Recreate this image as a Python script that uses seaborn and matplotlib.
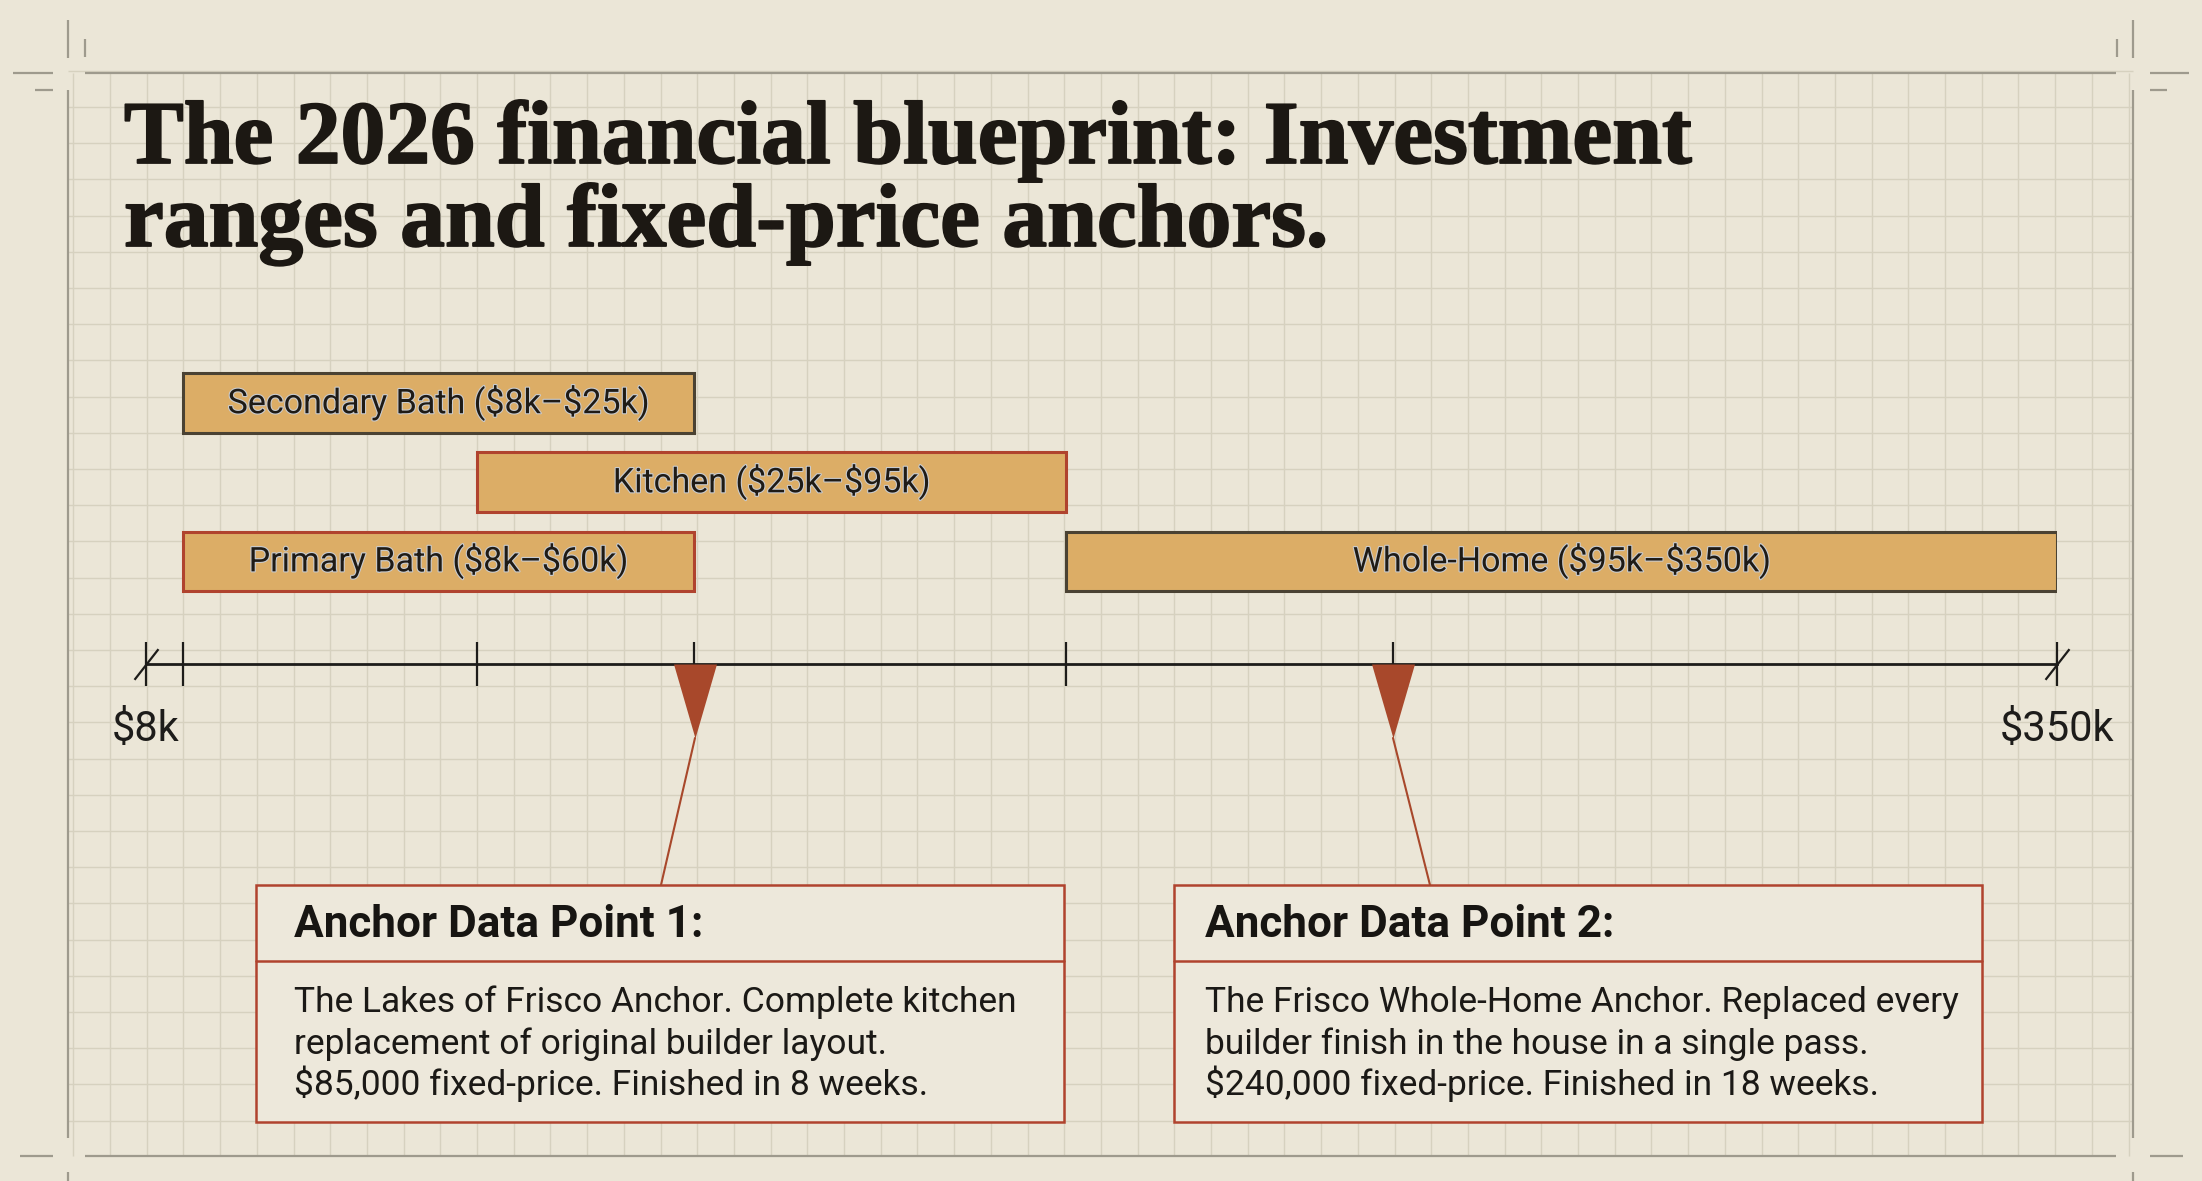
## Investment ranges on a schematic price line, with two fixed-price anchors
import numpy as np
import matplotlib
matplotlib.use("Agg")
import matplotlib.pyplot as plt
import matplotlib.patheffects as pe
from matplotlib.patches import Rectangle
import seaborn as sns

## data (all prices in $k)
categories = ["Secondary Bath", "Kitchen", "Primary Bath", "Whole-Home"]
bar_labels = ["Secondary Bath ($8k–$25k)", "Kitchen ($25k–$95k)",
              "Primary Bath ($8k–$60k)", "Whole-Home ($95k–$350k)"]
# extents as drawn against the line's ticks (the secondary bath bar is drawn out to the $60k tick)
bar_start = [8, 25, 8, 95]
bar_end = [60, 95, 60, 350]
bar_row = [0, 1, 2, 2]

anchor_values = [85, 240]
anchor_titles = ["Anchor Data Point 1:", "Anchor Data Point 2:"]
anchor_lines = [
    ["The Lakes of Frisco Anchor. Complete kitchen",
     "replacement of original builder layout.",
     "$85,000 fixed-price. Finished in 8 weeks."],
    ["The Frisco Whole-Home Anchor. Replaced every",
     "builder finish in the house in a single pass.",
     "$240,000 fixed-price. Finished in 18 weeks."],
]
axis_min, axis_max = 0, 350
tick_values = [0, 8, 25, 60, 95, 240, 350]
axis_end_labels = ["$8k", "$350k"]
title_lines = ["The 2026 financial blueprint: Investment",
               "ranges and fixed-price anchors."]

## the price line in the picture is schematic, not linear: knots
scale_values = [0, 8, 25, 60, 85, 95, 240, 350]
scale_pos = [0, 37, 331, 548, 549, 920, 1247, 1911]

def fwd(v):
    return np.interp(v, scale_values, scale_pos)

def inv(p):
    return np.interp(p, scale_pos, scale_values)

## colours
BG = "#ebe6d7"
GRID = "#d6d1bf"
FRAME = "#9e9a8d"
INK = "#1c1813"
BAR_FILL = "#dcad66"
DARK_EDGE = "#4a4233"
RED = "#b0432e"
RUST = "#a8482b"
edge_of = {"Secondary Bath": DARK_EDGE, "Kitchen": RED,
           "Primary Bath": RED, "Whole-Home": DARK_EDGE}

W, H = 2202, 1181
sns.set_theme(style="white")
plt.rcParams["font.family"] = ["Roboto", "DejaVu Sans"]
plt.rcParams["text.parse_math"] = False

fig = plt.figure(figsize=(W / 100, H / 100), dpi=100)
fig.patch.set_facecolor(BG)

## background sheet in pixel units: grid, frame, crop marks, title, note boxes
bg = fig.add_axes([0, 0, 1, 1])
bg.set_xlim(0, W)
bg.set_ylim(H, 0)
bg.axis("off")
bg.set_facecolor(BG)

gx = np.arange(73.3, 2133, 36.7)
gy = np.arange(107 - 36.2, 1156, 36.2)
bg.vlines(gx, 73, 1156, color=GRID, lw=1.0, zorder=1)
bg.hlines(gy, 68, 2133, color=GRID, lw=1.0, zorder=1)

frame_kw = dict(color=FRAME, lw=1.6, zorder=2, solid_capstyle="butt")
bg.plot([85, 2116], [73, 73], **frame_kw)
bg.plot([85, 2116], [1156, 1156], **frame_kw)
bg.plot([68, 68], [90, 1138], **frame_kw)
bg.plot([2133, 2133], [90, 1138], **frame_kw)
# crop marks
bg.plot([68, 68], [20, 58], **frame_kw)
bg.plot([13, 53], [73, 73], **frame_kw)
bg.plot([85, 85], [39, 57], **frame_kw)
bg.plot([35, 53], [90, 90], **frame_kw)
bg.plot([2133, 2133], [20, 58], **frame_kw)
bg.plot([2150, 2189], [73, 73], **frame_kw)
bg.plot([2117, 2117], [39, 57], **frame_kw)
bg.plot([2150, 2167], [90, 90], **frame_kw)
bg.plot([20, 53], [1156, 1156], **frame_kw)
bg.plot([68, 68], [1172, 1181], **frame_kw)
bg.plot([2150, 2183], [1156, 1156], **frame_kw)
bg.plot([2133, 2133], [1172, 1181], **frame_kw)

for line, base in zip(title_lines, [163, 246]):
    bg.text(124, base, line, family=["Liberation Serif", "DejaVu Serif"],
            fontweight="bold", fontsize=64.5, color=INK, va="baseline", zorder=3,
            path_effects=[pe.withStroke(linewidth=1.3, foreground=INK)])

## timeline axes: bottom spine is the price line
ax_left, ax_right, ax_top, ax_bottom = 146, 2057, 355.6, 664
ax = fig.add_axes([ax_left / W, 1 - ax_bottom / H,
                   (ax_right - ax_left) / W, (ax_bottom - ax_top) / H])
ax.patch.set_alpha(0)
ax.set_xscale("function", functions=(fwd, inv))
ax.set_xlim(axis_min, axis_max)
axis_y = 3.3
ax.set_ylim(axis_y, -0.6)

start = np.array(bar_start)
end = np.array(bar_end)
ax.barh(bar_row, end - start, left=start, height=0.75, color=BAR_FILL,
        edgecolor=[edge_of[c] for c in categories], linewidth=2.2, zorder=3)

for lo, hi, row, lbl in zip(start, end, bar_row, bar_labels):
    mid = inv((fwd(lo) + fwd(hi)) / 2)
    ax.text(mid, row, lbl, ha="center", va="center", fontsize=24.5, color="#1f1b16",
            zorder=4, path_effects=[pe.withStroke(linewidth=1.6, foreground="#c9cbce")])

for s in ["top", "left", "right"]:
    ax.spines[s].set_visible(False)
ax.spines["bottom"].set_color("#1d1c1a")
ax.spines["bottom"].set_linewidth(2.0)
ax.set_xticks(tick_values)
ax.set_xticklabels([])
ax.xaxis.set_minor_locator(matplotlib.ticker.NullLocator())
ax.set_yticks([])
ax.tick_params(axis="x", direction="inout", length=31, width=1.6, color="#1d1c1a", bottom=True)

# slashes at both ends of the line
ax.plot([axis_min, axis_max], [axis_y, axis_y], ls="none", marker=(2, 0, -38),
        ms=28, mew=1.6, color="#1d1c1a", clip_on=False, zorder=6)
for frac, lbl in zip([0, 1], axis_end_labels):
    ax.annotate(lbl, xy=(frac, 0), xycoords="axes fraction", xytext=(0, -47),
                textcoords="offset points", ha="center", va="center",
                fontsize=30, color="#1d1c1a")

# anchor wedges hanging from the line
wedge = [(-0.29, 0), (0.29, 0), (0, -1)]
sns.scatterplot(x=anchor_values, y=[axis_y] * len(anchor_values), ax=ax, marker=wedge,
                s=11360, color=RUST, linewidth=0, legend=False, clip_on=False, zorder=7)

## note boxes and leader lines
box_left = [256, 1174]
box_inset = [38, 31]
box_attach = [661, 1430]
box_w, box_top, box_bottom, box_rule = 808, 885, 1122, 961
to_bg = bg.transData.inverted()
for val, left, inset, attach, head, lines in zip(anchor_values, box_left, box_inset,
                                                 box_attach, anchor_titles, anchor_lines):
    px = ax.transData.transform((val, axis_y))
    tip = to_bg.transform((px[0], px[1] - 74))
    bg.plot([tip[0], attach], [tip[1], box_top], color=RUST, lw=1.5, zorder=4)
    bg.add_patch(Rectangle((left, box_top), box_w, box_bottom - box_top,
                           facecolor="#ede8db", edgecolor=RED, lw=1.8, zorder=3))
    bg.plot([left, left + box_w], [box_rule, box_rule], color=RED, lw=1.8, zorder=3)
    bg.text(left + inset, 937, head, fontsize=31.8, fontweight="bold", color="#171512",
            va="baseline", zorder=5)
    for txt, base in zip(lines, [1012, 1054, 1095]):
        bg.text(left + inset, base, txt, fontsize=25.5, color="#1b1916",
                va="baseline", zorder=5)

fig.savefig("out.png", dpi=100, facecolor=BG)
